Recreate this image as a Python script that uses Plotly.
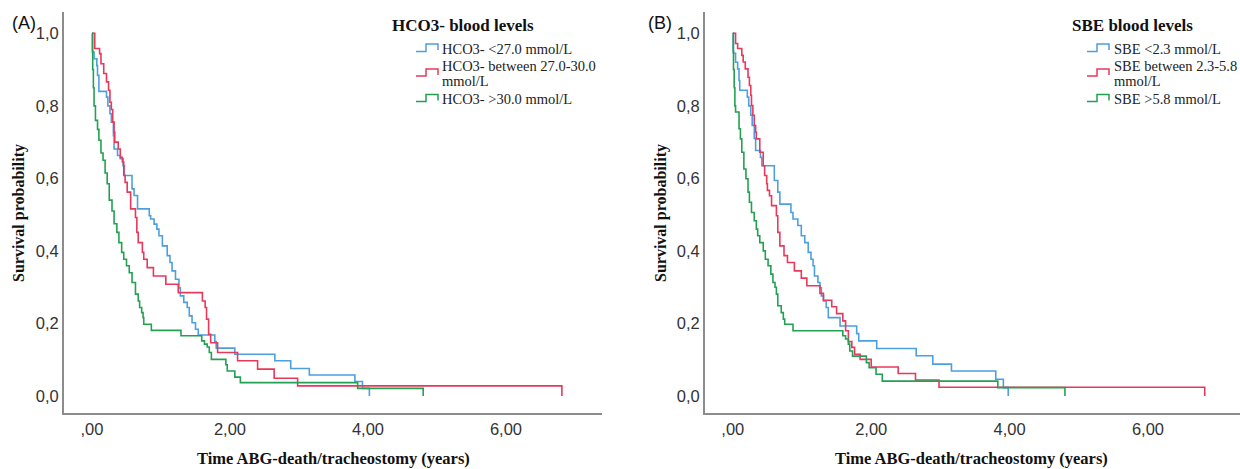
import plotly.graph_objects as go

# ---------------- data ----------------
# Panel A: HCO3- blood levels
hco3_low_t = [0, 0.01, 0.03, 0.07, 0.08, 0.10, 0.21, 0.23, 0.26, 0.28, 0.31, 0.32, 0.37, 0.41, 0.45, 0.47,
              0.58, 0.61, 0.66, 0.83, 0.85, 0.90, 0.94, 0.97, 1.02, 1.09, 1.13, 1.16, 1.21, 1.26, 1.28, 1.33,
              1.38, 1.41, 1.45, 1.50, 1.54, 1.78, 1.80, 2.07, 2.65, 2.88, 3.15, 3.81, 3.92, 4.02, 4.02]
hco3_low_s = [1.0, 0.948, 0.93, 0.911, 0.884, 0.84, 0.824, 0.80, 0.778, 0.755, 0.718, 0.681, 0.663, 0.654, 0.635, 0.608,
              0.571, 0.553, 0.516, 0.497, 0.488, 0.474, 0.46, 0.442, 0.414, 0.387, 0.368, 0.345, 0.322, 0.298, 0.276, 0.258,
              0.244, 0.221, 0.202, 0.184, 0.168, 0.150, 0.132, 0.115, 0.097, 0.076, 0.058, 0.040, 0.021, 0.021, 0.0]

hco3_mid_t = [0, 0.04, 0.11, 0.13, 0.17, 0.21, 0.24, 0.26, 0.28, 0.30, 0.32, 0.33, 0.38, 0.41, 0.44, 0.46, 0.48,
              0.51, 0.56, 0.63, 0.65, 0.67, 0.73, 0.75, 0.80, 0.89, 1.07, 1.25, 1.60, 1.64, 1.66, 1.69, 1.72,
              1.82, 2.11, 2.40, 2.64, 2.98, 6.81, 6.81]
hco3_mid_s = [1.0, 0.958, 0.944, 0.916, 0.889, 0.866, 0.843, 0.81, 0.79, 0.755, 0.727, 0.70, 0.681, 0.658, 0.645, 0.608, 0.589,
              0.562, 0.516, 0.492, 0.451, 0.423, 0.396, 0.377, 0.354, 0.331, 0.308, 0.285, 0.262, 0.244, 0.212, 0.170, 0.147,
              0.12, 0.097, 0.074, 0.049, 0.028, 0.028, 0.0]

hco3_high_t = [0, 0.005, 0.01, 0.02, 0.03, 0.05, 0.08, 0.10, 0.13, 0.16, 0.19, 0.22, 0.25, 0.29, 0.32, 0.36, 0.39,
               0.43, 0.46, 0.50, 0.54, 0.58, 0.63, 0.67, 0.69, 0.72, 0.74, 0.75, 0.86, 1.29, 1.59, 1.63, 1.67,
               1.70, 1.73, 1.94, 1.96, 2.07, 2.15, 3.85, 4.80, 4.80]
hco3_high_s = [1.0, 0.95, 0.90, 0.85, 0.80, 0.76, 0.735, 0.705, 0.67, 0.65, 0.615, 0.585, 0.54, 0.51, 0.475, 0.451, 0.423,
               0.396, 0.377, 0.359, 0.340, 0.313, 0.281, 0.262, 0.244, 0.230, 0.216, 0.198, 0.181, 0.166, 0.152, 0.143, 0.135,
               0.12, 0.101, 0.086, 0.069, 0.052, 0.037, 0.021, 0.021, 0.0]

# Panel B: SBE blood levels
sbe_low_t = [0, 0.01, 0.04, 0.07, 0.09, 0.10, 0.21, 0.23, 0.26, 0.28, 0.31, 0.33, 0.40, 0.42, 0.60, 0.65, 0.68,
             0.84, 0.87, 0.94, 0.99, 1.04, 1.09, 1.13, 1.16, 1.18, 1.23, 1.26, 1.28, 1.31, 1.35, 1.38, 1.55,
             1.79, 1.82, 2.08, 2.65, 2.89, 3.16, 3.80, 3.91, 3.98, 3.98]
sbe_low_s = [1.0, 0.945, 0.92, 0.902, 0.87, 0.843, 0.824, 0.80, 0.774, 0.746, 0.71, 0.677, 0.658, 0.635, 0.594, 0.562, 0.529,
             0.506, 0.488, 0.47, 0.442, 0.423, 0.396, 0.377, 0.359, 0.331, 0.313, 0.298, 0.276, 0.262, 0.244, 0.216, 0.193,
             0.172, 0.152, 0.131, 0.111, 0.088, 0.069, 0.046, 0.023, 0.023, 0.0]

sbe_mid_t = [0, 0.04, 0.07, 0.13, 0.15, 0.18, 0.22, 0.24, 0.26, 0.27, 0.29, 0.31, 0.33, 0.34, 0.39, 0.44, 0.46,
             0.49, 0.50, 0.53, 0.56, 0.63, 0.65, 0.68, 0.74, 0.79, 0.89, 0.99, 1.07, 1.26, 1.31, 1.43, 1.50,
             1.59, 1.63, 1.67, 1.72, 1.76, 1.84, 2.00, 2.39, 2.64, 2.98, 6.82, 6.82]
sbe_mid_s = [1.0, 0.972, 0.958, 0.939, 0.921, 0.902, 0.879, 0.856, 0.829, 0.801, 0.774, 0.746, 0.727, 0.709, 0.672, 0.635, 0.608,
             0.585, 0.567, 0.552, 0.525, 0.497, 0.451, 0.414, 0.387, 0.368, 0.345, 0.325, 0.304, 0.283, 0.264, 0.246, 0.227,
             0.207, 0.18, 0.15, 0.134, 0.115, 0.101, 0.080, 0.062, 0.044, 0.024, 0.024, 0.0]

sbe_high_t = [0, 0.005, 0.01, 0.02, 0.03, 0.04, 0.09, 0.11, 0.13, 0.16, 0.19, 0.22, 0.24, 0.27, 0.31, 0.34, 0.36,
              0.39, 0.44, 0.47, 0.51, 0.55, 0.58, 0.61, 0.63, 0.65, 0.70, 0.73, 0.75, 0.87, 1.59, 1.63, 1.67,
              1.69, 1.73, 1.93, 1.97, 2.07, 2.16, 3.83, 4.80, 4.80]
sbe_high_s = [1.0, 0.95, 0.90, 0.85, 0.80, 0.783, 0.737, 0.709, 0.672, 0.626, 0.599, 0.562, 0.534, 0.506, 0.483, 0.46, 0.442,
              0.423, 0.40, 0.377, 0.359, 0.336, 0.313, 0.30, 0.281, 0.249, 0.230, 0.212, 0.198, 0.180, 0.166, 0.157, 0.143,
              0.124, 0.11, 0.092, 0.078, 0.06, 0.041, 0.023, 0.023, 0.0]

hco3_labels = ["HCO3- <27.0 mmol/L", "HCO3- between 27.0-30.0", "mmol/L", "HCO3- >30.0 mmol/L"]
sbe_labels = ["SBE <2.3 mmol/L", "SBE between 2.3-5.8", "mmol/L", "SBE >5.8 mmol/L"]
legend_titles = ["HCO3- blood levels", "SBE blood levels"]
panel_labels = ["(A)", "(B)"]
y_tick_vals = [0.0, 0.2, 0.4, 0.6, 0.8, 1.0]
y_tick_text = ["0,0", "0,2", "0,4", "0,6", "0,8", "1,0"]
x_tick_vals = [0, 2, 4, 6]
x_tick_text = [",00", "2,00", "4,00", "6,00"]
x_title = "Time ABG-death/tracheostomy (years)"
y_title = "Survival probability"

# ---------------- styling ----------------
W, H = 1240, 469
BLUE, RED, GREEN = "#4e9fdf", "#e8385c", "#23a053"
AXIS_GRAY = "#8c8c8c"
SERIF = "Liberation Serif, Times New Roman, serif"
NARROW = "Liberation Sans Narrow, Arial Narrow, Liberation Sans, Arial, sans-serif"
SANS = "Liberation Sans, Arial, sans-serif"


def px(x):
    return x / W


def py(y):
    return 1 - y / H


fig = go.Figure()

series = [
    (hco3_low_t, hco3_low_s, BLUE, "x", "y"),
    (hco3_mid_t, hco3_mid_s, RED, "x", "y"),
    (hco3_high_t, hco3_high_s, GREEN, "x", "y"),
    (sbe_low_t, sbe_low_s, BLUE, "x2", "y2"),
    (sbe_mid_t, sbe_mid_s, RED, "x2", "y2"),
    (sbe_high_t, sbe_high_s, GREEN, "x2", "y2"),
]
for t, s, c, xa, ya in series:
    fig.add_trace(go.Scatter(x=t, y=s, mode="lines", line=dict(shape="hv", color=c, width=1.6),
                             xaxis=xa, yaxis=ya, showlegend=False, hoverinfo="skip"))

yb, yt = 413.3, 11.7
common_x = dict(showline=True, linecolor=AXIS_GRAY, linewidth=2, showgrid=False, zeroline=False,
                ticks="", tickvals=x_tick_vals, ticktext=x_tick_text,
                tickfont=dict(family=NARROW, size=16.5, color="#333"))
common_y = dict(showline=True, linecolor=AXIS_GRAY, linewidth=2, showgrid=False, zeroline=False,
                ticks="", tickvals=y_tick_vals, ticktext=y_tick_text,
                tickfont=dict(family=NARROW, size=16.5, color="#333"),
                domain=[py(yb), py(yt)], range=[(396 - yb) / 362.7, (396 - yt) / 362.7])

fig.update_layout(
    width=W, height=H, margin=dict(l=0, r=0, t=0, b=0),
    paper_bgcolor="white", plot_bgcolor="white",
    xaxis=dict(domain=[px(64), px(602)], range=[(64 - 92) / 69.0, (602 - 92) / 69.0], anchor="y", **common_x),
    yaxis=dict(anchor="x", **common_y),
    xaxis2=dict(domain=[px(705), 1.0], range=[(705 - 732.8) / 69.2, (1240 - 732.8) / 69.2], anchor="y2", **common_x),
    yaxis2=dict(anchor="x2", **common_y),
)

annotations = []
shapes = []


def text(x, y, s, size, family, color="#111", xanchor="left", angle=0):
    annotations.append(dict(x=px(x), y=py(y), xref="paper", yref="paper", text=s, showarrow=False,
                            xanchor=xanchor, yanchor="middle", textangle=angle,
                            font=dict(family=family, size=size, color=color)))


def icon(x0, ylow, yhigh, color):
    x1, x2 = x0 + 10, x0 + 22
    path = (f"M {px(x0)},{py(ylow)} L {px(x1)},{py(ylow)} L {px(x1)},{py(yhigh)} "
            f"L {px(x2)},{py(yhigh)} L {px(x2)},{py(yhigh + 6)}")
    shapes.append(dict(type="path", xref="paper", yref="paper", path=path,
                       line=dict(color=color, width=1.5)))


panels = [
    dict(label_x=10, ytitle_x=19, center=333, title_x=390, icon_x=416, text_x=440, labels=hco3_labels),
    dict(label_x=646, ytitle_x=661, center=972, title_x=1070, icon_x=1087, text_x=1112, labels=sbe_labels),
]
for i, p in enumerate(panels):
    text(p["label_x"], 23, panel_labels[i], 18, SANS, "#111")
    text(p["ytitle_x"], 213, "<b>" + y_title + "</b>", 16, SERIF, "#111", xanchor="center", angle=-90)
    text(p["center"], 458, "<b>" + x_title + "</b>", 16.5, SERIF, "#111", xanchor="center")
    text(p["title_x"], 25, "<b>" + legend_titles[i] + "</b>", 17, SERIF, "#111")
    labs = p["labels"]
    text(p["text_x"], 49, labs[0], 14.5, SERIF, "#222")
    text(p["text_x"], 66.5, labs[1], 14.5, SERIF, "#222")
    text(p["text_x"], 81, labs[2], 14.5, SERIF, "#222")
    text(p["text_x"], 99, labs[3], 14.5, SERIF, "#222")
    icon(p["icon_x"], 51.5, 44, BLUE)
    icon(p["icon_x"], 76, 69, RED)
    icon(p["icon_x"], 101.5, 94.5, GREEN)

fig.update_layout(annotations=annotations, shapes=shapes)
fig.write_html("out.html", config={"displayModeBar": False},
               post_script="document.body.style.margin='0';document.body.style.padding='0';")
